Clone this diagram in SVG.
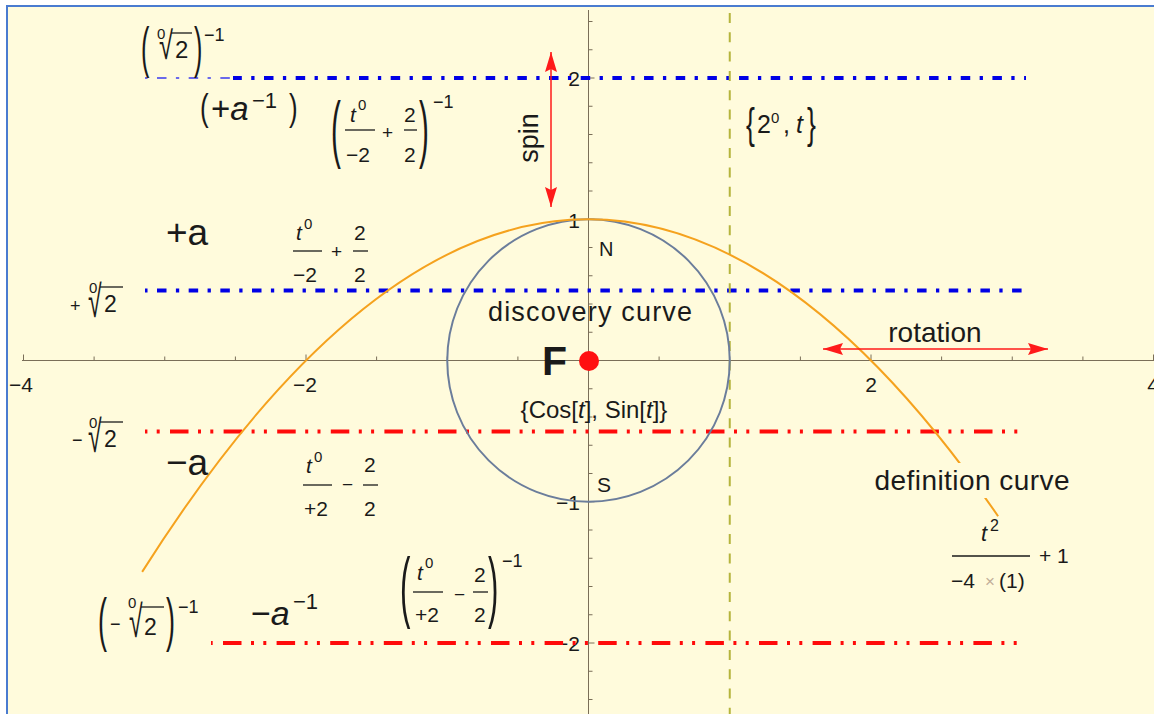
<svg xmlns="http://www.w3.org/2000/svg" width="1154" height="714" viewBox="0 0 1154 714">
<defs>
<style>
.t{font-family:"Liberation Sans",Arial,sans-serif;fill:#1a1a1a}
.i{font-style:italic}
.ax{stroke:#7a6e58;stroke-width:1;fill:none}
.bl{stroke:#0000e6;stroke-width:4;fill:none;stroke-dasharray:9.5 9.4 3.3 9.47;stroke-dashoffset:19.67}
.rd{stroke:#ff0a0a;stroke-width:4;fill:none;stroke-dasharray:18.5 9.5 3 9.3 3 10.3}
.bar{stroke:#1a1a1a;stroke-width:1.3}
.arr{stroke:#ff1a1a;stroke-width:1.5;fill:none;marker-start:url(#ah);marker-end:url(#ah)}
</style>
<marker id="ah" viewBox="0 0 20 12" refX="20" refY="6" markerWidth="20" markerHeight="12" markerUnits="userSpaceOnUse" orient="auto-start-reverse">
<path d="M0,0 L20,6 L0,12 L3,6 z" fill="#ff1a1a"/>
</marker>
</defs>
<rect x="0" y="0" width="1154" height="714" fill="#ffffff"/>
<rect id="frame" x="7" y="6" width="1170" height="730" fill="#fffbdc" stroke="#4a7bd0" stroke-width="2"/>

<g id="axes">
<line class="ax" x1="22" y1="360.5" x2="1154" y2="360.5"/>
<line class="ax" x1="588.5" y1="10" x2="588.5" y2="714"/>
<path class="ax" d="M23.5,360.5v-6M94.1,360.5v-4M164.75,360.5v-4M235.4,360.5v-4M306,360.5v-6M376.6,360.5v-4M447.25,360.5v-4M517.9,360.5v-4M659.1,360.5v-4M729.75,360.5v-4M800.4,360.5v-4M871,360.5v-6M941.6,360.5v-4M1012.25,360.5v-4M1082.9,360.5v-4M1153.5,360.5v-6"/>
<path class="ax" d="M588.5,21.5h4M588.5,49.75h4M588.5,78h6M588.5,106.25h4M588.5,134.5h4M588.5,162.75h4M588.5,191h4M588.5,219.25h6M588.5,247.5h4M588.5,275.75h4M588.5,304h4M588.5,332.25h4M588.5,388.75h4M588.5,417h4M588.5,445.25h4M588.5,473.5h4M588.5,501.75h6M588.5,530h4M588.5,558.25h4M588.5,586.5h4M588.5,614.75h4M588.5,643h6M588.5,671.25h4M588.5,699.5h4"/>
<g class="t" font-size="21" fill="#222">
<text x="21" y="392" text-anchor="middle">−4</text>
<text x="305" y="392" text-anchor="middle">−2</text>
<text x="871" y="392" text-anchor="middle">2</text>
<text x="1153" y="392" text-anchor="middle">4</text>
<text x="580" y="86" text-anchor="end">2</text>
<text x="580" y="228" text-anchor="end">1</text>
<text x="580" y="510" text-anchor="end">−1</text>
<text x="580" y="651" text-anchor="end">−2</text>
</g>
</g>

<g id="lines">
<line x1="145" y1="78" x2="233" y2="78" class="bl" style="stroke-width:1.3;stroke:#3a3af0"/>
<line x1="233" y1="78" x2="1026" y2="78" class="bl" style="stroke-dashoffset:0.67"/>
<line x1="145" y1="290.5" x2="1026" y2="290.5" class="bl"/>
<line x1="145" y1="431.5" x2="1026" y2="431.5" class="rd" style="stroke-dashoffset:28.6"/>
<line x1="211" y1="643" x2="1026" y2="643" class="rd" style="stroke-dashoffset:41.6"/>
<line x1="729.75" y1="13" x2="729.75" y2="714" stroke="#b5b43c" stroke-width="2" stroke-dasharray="10 9.3"/>
</g>

<g id="discovery-curve">
<circle cx="588.5" cy="360.5" r="141.25" fill="none" stroke="#6b7d9b" stroke-width="2"/>
</g>

<g id="definition-curve">
<path d="M142.15,571.9 Q570.1,-104.35 998.1,516.2" fill="none" stroke="#f5a21e" stroke-width="2"/>
</g>

<g id="arrows">
<line class="arr" x1="551" y1="52" x2="551" y2="207"/>
<line class="arr" x1="823" y1="349" x2="1048" y2="349"/>
</g>

<g id="focus">
<circle cx="589" cy="361" r="10" fill="#ff1010"/>
<text class="t" x="542" y="375" font-size="41" font-weight="bold">F</text>
</g>

<g id="labels" class="t">
<text x="538" y="138" font-size="27" text-anchor="middle" transform="rotate(-90 538 138)">spin</text>
<text x="935" y="342" font-size="28" text-anchor="middle">rotation</text>
<text x="590" y="321" font-size="27" text-anchor="middle" textLength="204" lengthAdjust="spacing">discovery curve</text>
<text x="594" y="418" font-size="24" text-anchor="middle">{Cos[<tspan class="i">t</tspan>], Sin[<tspan class="i">t</tspan>]}</text>
<text x="599" y="256" font-size="20">N</text>
<text x="597" y="492" font-size="21">S</text>
<rect x="872" y="463" width="200" height="35" fill="#fffbdc"/>
<text x="972" y="490" font-size="28" text-anchor="middle" textLength="195" lengthAdjust="spacing">definition curve</text>
</g>

<g id="f-def" class="t">
<text x="981" y="541" font-size="22" class="i">t</text>
<text x="990" y="531" font-size="16">2</text>
<line class="bar" x1="952" y1="556" x2="1030" y2="556"/>
<text x="951" y="588" font-size="21">−4</text>
<text x="985" y="587" font-size="17" fill="#c2ae98">×</text>
<text x="999" y="588" font-size="21">(1)</text>
<text x="1039" y="563" font-size="21">+ 1</text>
</g>

<g id="f-2t" class="t">
<text transform="translate(746,138) scale(0.62,1)" font-size="43">{</text>
<text x="757" y="133" font-size="25">2</text>
<text x="771" y="123" font-size="15">0</text>
<text x="783" y="133" font-size="25">,</text>
<text x="796" y="133" font-size="25" class="i">t</text>
<text transform="translate(807,138) scale(0.62,1)" font-size="43">}</text>
</g>

<g id="f-top-root" class="t">
<text transform="translate(141,66) scale(0.45,1)" font-size="56">(</text>
<text x="157" y="39" font-size="15">0</text>
<text transform="translate(159,59) scale(0.65,1)" font-size="39">√</text>
<line class="bar" x1="171" y1="33" x2="192" y2="33"/>
<text x="175" y="58" font-size="24">2</text>
<text transform="translate(194,66) scale(0.45,1)" font-size="56">)</text>
<text x="204" y="41" font-size="18">−1</text>
</g>

<g id="f-plus-a-inv" class="t">
<text transform="translate(200,120) scale(0.7,1)" font-size="37">(</text>
<text x="211" y="120" font-size="33">+<tspan class="i">a</tspan></text>
<text x="252" y="108" font-size="22">−1</text>
<text transform="translate(289,120) scale(0.7,1)" font-size="37">)</text>
</g>

<g id="f-top-frac" class="t">
<text transform="translate(331,154) scale(0.4,1)" font-size="74">(</text>
<text x="350" y="122" font-size="21" class="i">t</text>
<text x="358" y="110" font-size="15">0</text>
<line class="bar" x1="345" y1="130" x2="375" y2="130"/>
<text x="346" y="162" font-size="21">−2</text>
<text x="382" y="139" font-size="19">+</text>
<text x="404" y="122" font-size="21">2</text>
<line class="bar" x1="404" y1="130" x2="417" y2="130"/>
<text x="404" y="162" font-size="21">2</text>
<text transform="translate(419,154) scale(0.4,1)" font-size="74">)</text>
<text x="433" y="108" font-size="18">−1</text>
</g>

<g id="f-plus-a" class="t">
<text x="166" y="245" font-size="37">+a</text>
</g>

<g id="f-mid-frac" class="t">
<text x="296" y="240" font-size="21" class="i">t</text>
<text x="304" y="229" font-size="15">0</text>
<line class="bar" x1="293" y1="251" x2="322" y2="251"/>
<text x="293" y="282" font-size="21">−2</text>
<text x="331" y="258" font-size="19">+</text>
<text x="354" y="240" font-size="21">2</text>
<line class="bar" x1="353" y1="251" x2="368" y2="251"/>
<text x="354" y="282" font-size="21">2</text>
</g>

<g id="f-plus-root" class="t">
<text x="70" y="312" font-size="18">+</text>
<text x="89" y="293" font-size="15">0</text>
<text transform="translate(88,317) scale(0.55,1)" font-size="45">√</text>
<line class="bar" x1="100" y1="287" x2="123" y2="287"/>
<text x="104" y="312" font-size="23">2</text>
</g>

<g id="f-minus-root" class="t">
<text x="72" y="446" font-size="18">−</text>
<text x="89" y="428" font-size="15">0</text>
<text transform="translate(88,452) scale(0.55,1)" font-size="45">√</text>
<line class="bar" x1="100" y1="422" x2="123" y2="422"/>
<text x="104" y="447" font-size="23">2</text>
</g>

<g id="f-minus-a" class="t">
<text x="166" y="475" font-size="37">−a</text>
</g>

<g id="f-low-frac" class="t">
<text x="306" y="473" font-size="21" class="i">t</text>
<text x="314" y="462" font-size="15">0</text>
<line class="bar" x1="303" y1="485" x2="332" y2="485"/>
<text x="304" y="516" font-size="21">+2</text>
<text x="342" y="491" font-size="19">−</text>
<text x="364" y="472" font-size="21">2</text>
<line class="bar" x1="363" y1="485" x2="378" y2="485"/>
<text x="364" y="516" font-size="21">2</text>
</g>

<g id="f-bot-frac" class="t">
<text transform="translate(400,613) scale(0.4,1)" font-size="78">(</text>
<text x="417" y="580" font-size="21" class="i">t</text>
<text x="425" y="568" font-size="15">0</text>
<line class="bar" x1="413" y1="592" x2="443" y2="592"/>
<text x="415" y="622" font-size="21">+2</text>
<text x="454" y="601" font-size="19">−</text>
<text x="474" y="582" font-size="21">2</text>
<line class="bar" x1="473" y1="592" x2="488" y2="592"/>
<text x="474" y="622" font-size="21">2</text>
<text transform="translate(488,613) scale(0.4,1)" font-size="78">)</text>
<text x="502" y="567" font-size="18">−1</text>
</g>

<g id="f-bot-root" class="t">
<text transform="translate(98,640) scale(0.45,1)" font-size="60">(</text>
<text x="110" y="630" font-size="18">−</text>
<text x="128" y="608" font-size="15">0</text>
<text transform="translate(129,637) scale(0.55,1)" font-size="45">√</text>
<line class="bar" x1="141" y1="607" x2="164" y2="607"/>
<text x="144" y="635" font-size="23">2</text>
<text transform="translate(166,640) scale(0.45,1)" font-size="60">)</text>
<text x="178" y="613" font-size="18">−1</text>
</g>

<g id="f-minus-a-inv" class="t">
<text x="251" y="625" font-size="34">−<tspan class="i">a</tspan></text>
<text x="293" y="609" font-size="22">−1</text>
</g>
</svg>
